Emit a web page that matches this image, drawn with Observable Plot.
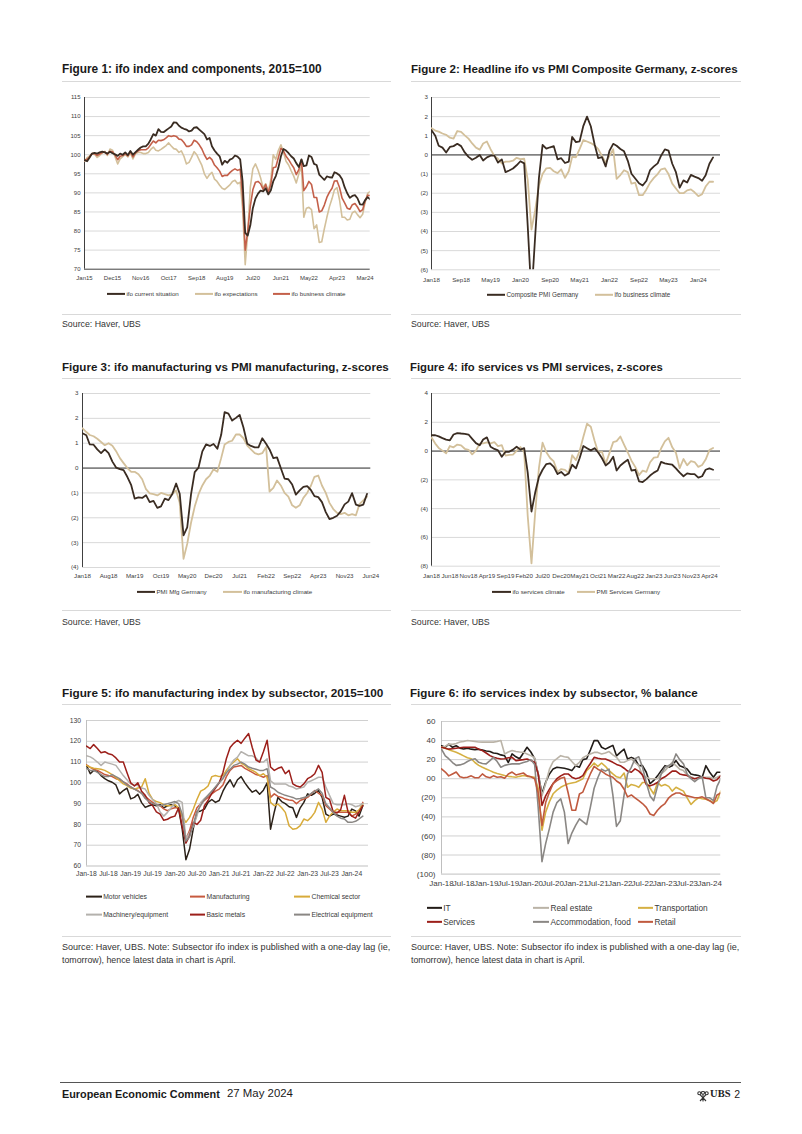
<!DOCTYPE html>
<html><head><meta charset="utf-8">
<script src="https://cdn.jsdelivr.net/npm/d3@7"></script>
<script src="https://cdn.jsdelivr.net/npm/@observablehq/plot@0.6"></script>
<style>
html,body{margin:0;padding:0;background:#fff;}
#page{position:relative;width:802px;height:1134px;overflow:hidden;font-family:"Liberation Sans",Arial,sans-serif;color:#1a1a1a;}
</style></head>
<body><div id="page"></div>
<script>
// ---------------- DATA ----------------
// Figure 1: monthly Jan15 - May24, 2015=100
const f1Current = [
98.6,98.3,99.2,100.3,100.5,100.3,100.6,100.8,100.6,100.3,100.8,100.4,
100.1,99.7,100.3,100.0,100.6,99.9,101.0,100.0,100.7,101.3,101.9,102.2,
102.2,102.9,104.0,105.4,105.0,106.7,106.0,105.9,106.4,106.9,107.4,108.5,
108.4,107.6,107.1,106.8,106.6,106.1,106.3,107.1,107.2,106.6,106.0,105.4,
104.0,104.4,102.2,101.1,100.3,99.6,97.4,98.4,97.9,98.7,99.0,99.8,
99.5,98.8,93.0,79.5,78.8,81.5,86.0,88.5,89.8,90.6,90.4,91.2,
89.6,90.7,93.0,94.4,96.5,99.6,101.5,101.1,100.4,99.6,99.0,97.8,
96.8,98.8,97.0,97.2,99.8,99.4,97.6,97.3,94.8,94.1,93.4,94.3,
94.1,94.0,95.4,95.1,94.6,93.6,91.5,89.9,88.7,89.2,89.4,88.6,
87.0,86.9,88.1,88.9,88.3];
const f1Expect = [
98.3,99.2,99.6,100.3,100.1,99.3,99.8,100.4,100.9,99.8,101.5,101.2,
99.4,97.6,98.9,99.5,100.0,99.4,100.5,98.9,100.3,100.6,100.6,100.3,
100.3,100.6,101.4,102.0,101.2,101.0,101.4,101.9,102.4,103.1,102.3,101.6,
101.4,100.6,101.0,99.6,97.6,98.0,99.3,100.8,100.0,98.6,97.2,95.0,
93.8,94.8,95.4,93.6,93.0,92.0,91.2,90.9,91.5,92.1,93.0,93.3,
92.4,92.8,85.8,71.2,79.5,91.5,96.3,97.6,96.0,94.0,91.3,92.4,
90.4,93.5,100.0,98.8,101.1,102.6,100.7,98.3,97.3,95.8,94.4,92.6,
95.0,97.0,83.6,86.0,86.2,85.6,80.6,81.6,77.0,77.2,80.6,83.6,
86.4,88.5,90.8,91.4,88.2,83.6,83.6,82.9,83.1,84.8,85.2,84.3,
83.5,84.4,87.5,89.9,90.4];
const f1Climate = [
98.5,98.8,99.4,100.3,100.3,99.8,100.2,100.6,100.7,100.1,100.9,100.8,
99.9,98.7,99.6,99.8,100.3,99.7,100.8,99.4,100.5,101.0,101.3,101.3,
101.3,101.8,102.7,103.6,103.1,103.8,103.7,103.9,104.4,105.0,104.8,105.0,
104.8,104.1,104.0,103.2,102.2,102.2,102.6,103.8,103.4,102.6,101.5,100.0,
98.8,99.3,98.7,97.3,96.6,95.7,94.3,94.6,94.6,95.3,95.9,96.3,
95.9,96.2,89.0,75.0,80.0,86.5,90.8,92.8,93.0,92.4,90.9,92.2,
90.1,92.3,96.6,96.8,99.2,101.7,101.0,99.6,98.7,97.6,96.6,94.8,
96.1,98.7,90.6,91.6,93.0,92.2,88.8,88.8,85.0,85.3,86.8,88.8,
90.2,91.2,93.1,93.2,91.4,88.6,87.4,86.0,85.7,86.9,87.2,86.3,
85.1,85.6,87.8,89.4,89.3];
const f1XLabels = ["Jan15","Dec15","Nov16","Oct17","Sep18","Aug19","Jul20","Jun21","May22","Apr23","Mar24"];
const f1YTicks = [70,75,80,85,90,95,100,105,110,115];
const f1Names = ["ifo current situation","ifo expectations","ifo business climate"];

// Figure 2: z-scores Jan18 - May24
const f2Pmi = [
1.29,1.00,0.48,0.38,0.13,0.42,0.46,0.58,0.46,0.13,-0.10,-0.25,
-0.15,0.00,-0.29,-0.13,-0.04,-0.04,-0.40,-0.23,-0.90,-0.81,-0.71,-0.54,
-0.33,-0.44,-3.70,-7.40,-4.27,-1.21,0.52,0.33,0.40,0.46,-0.23,-0.17,
-0.42,-0.35,0.94,0.67,0.71,1.52,2.00,1.50,0.56,-0.17,-0.12,-0.60,
0.21,0.58,0.48,0.31,0.19,-0.31,-0.98,-1.23,-1.48,-1.60,-1.35,-0.79,
-0.60,-0.44,-0.04,0.29,0.23,-0.46,-0.90,-1.71,-1.33,-1.44,-1.04,-1.13,
-1.21,-1.35,-1.06,-0.46,-0.13];
const f2Ifo = [
1.40,1.27,1.22,1.12,1.05,0.90,0.85,1.25,1.20,1.02,0.85,0.60,
0.38,0.28,0.60,0.70,0.30,-0.05,-0.20,-0.45,-0.35,-0.35,-0.30,-0.15,
-0.22,-0.20,-1.30,-3.90,-2.90,-1.60,-1.00,-0.70,-0.68,-0.85,-0.95,-0.75,
-1.20,-0.85,-0.10,-0.12,0.30,0.78,0.70,0.62,0.50,0.30,-0.05,-0.40,
-0.05,0.30,-1.25,-1.05,-0.80,-0.90,-1.50,-1.45,-2.10,-2.10,-1.80,-1.45,
-1.20,-1.00,-0.75,-0.70,-1.00,-1.50,-1.75,-2.00,-2.00,-1.85,-1.80,-1.95,
-2.15,-2.05,-1.65,-1.40,-1.40];
const f2XLabels = ["Jan18","Sep18","May19","Jan20","Sep20","May21","Jan22","Sep22","May23","Jan24"];
const f2YTicks = [3,2,1,0,-1,-2,-3,-4,-5,-6];
const f2Names = ["Composite PMI Germany","ifo business climate"];

// Figure 3: z-scores Jan18 - May24
const f3Pmi = [
1.40,1.32,0.95,0.94,0.75,0.60,0.75,0.60,0.26,0.02,-0.04,-0.08,
-0.36,-0.69,-1.23,-1.18,-1.20,-1.09,-1.37,-1.32,-1.60,-1.54,-1.23,-1.29,
-1.04,-0.62,-1.03,-2.71,-2.39,-1.06,-0.16,0.02,0.67,0.95,0.89,0.97,
0.78,1.34,2.25,2.19,1.91,2.02,2.14,1.63,0.98,0.89,0.83,0.83,
1.20,0.98,0.75,0.40,0.43,-0.01,-0.42,-0.45,-0.66,-1.07,-0.90,-0.76,
-0.73,-0.89,-1.13,-1.17,-1.37,-1.77,-2.05,-2.00,-1.92,-1.74,-1.46,-1.35,
-1.01,-1.47,-1.52,-1.47,-1.04];
const f3Ifo = [
1.60,1.45,1.33,1.28,1.18,1.05,0.92,1.00,0.90,0.68,0.40,0.20,
0.00,-0.15,-0.15,-0.25,-0.45,-0.85,-1.02,-1.05,-1.10,-1.00,-1.05,-1.10,
-1.05,-0.90,-1.40,-3.65,-3.05,-2.20,-1.55,-1.05,-0.70,-0.45,-0.30,-0.05,
-0.15,0.40,0.95,1.05,1.10,1.35,1.35,1.20,0.90,0.75,0.60,0.55,
0.60,0.85,-0.95,-0.80,-0.50,-0.70,-1.00,-1.15,-1.50,-1.60,-1.50,-1.20,
-1.00,-0.70,-0.35,-0.30,-0.70,-1.00,-1.40,-1.65,-1.80,-1.85,-1.80,-1.90,
-1.85,-1.90,-1.45,-1.30,-1.15];
const f3XLabels = ["Jan18","Aug18","Mar19","Oct19","May20","Dec20","Jul21","Feb22","Sep22","Apr23","Nov23","Jun24"];
const f3YTicks = [3,2,1,0,-1,-2,-3,-4];
const f3Names = ["PMI Mfg Germany","ifo manufacturing climate"];

// Figure 4: z-scores Jan18 - May24
const f4Ifo = [
1.10,1.10,1.02,0.90,0.80,0.75,1.15,1.25,1.22,1.20,1.15,0.85,
0.55,0.40,0.80,0.95,0.30,0.15,0.05,-0.40,-0.05,-0.05,0.10,0.30,
0.10,0.20,-1.50,-4.20,-2.90,-1.80,-1.30,-0.90,-0.85,-1.10,-1.60,-1.45,
-1.70,-1.55,-0.95,-1.20,-0.50,0.35,0.20,0.05,0.20,-0.10,-0.50,-1.00,
-0.80,-0.40,-1.35,-1.00,-0.80,-0.60,-1.35,-1.30,-2.10,-2.15,-1.95,-1.70,
-1.50,-1.35,-0.75,-0.85,-0.90,-0.95,-1.20,-1.50,-1.75,-1.55,-1.60,-1.60,
-1.85,-1.75,-1.30,-1.20,-1.30];
const f4Pmi = [
0.94,0.52,0.22,0.03,-0.16,0.35,0.26,0.45,0.39,0.16,0.09,-0.23,
0.03,0.52,0.54,0.60,0.54,0.62,0.35,0.41,-0.31,-0.27,-0.25,0.01,
0.28,-0.08,-4.50,-7.80,-4.31,-1.19,0.58,-0.08,-0.48,-0.72,-1.46,-1.25,
-1.31,-1.53,-0.29,-0.63,-0.01,0.99,1.90,1.69,0.71,-0.10,-0.04,-0.89,
-0.14,0.62,0.69,1.01,0.45,-0.10,-0.67,-1.10,-1.67,-1.36,-1.44,-0.78,
-0.46,-0.42,0.18,0.67,0.92,0.26,-0.12,-1.19,-0.55,-0.99,-0.70,-0.76,
-1.10,-0.97,-0.59,0.07,0.22];
const f4XLabels = ["Jan18","Jun18","Nov18","Apr19","Sep19","Feb20","Jul20","Dec20","May21","Oct21","Mar22","Aug22","Jan23","Jun23","Nov23","Apr24"];
const f4YTicks = [4,2,0,-2,-4,-6,-8];
const f4Names = ["ifo services climate","PMI Services Germany"];

// Figure 5: 2015=100, Jan18 - Apr24
const f5Motor = [
108.4,104.4,106.0,105.5,103.5,102.0,101.0,100.3,99.0,94.7,96.3,97.5,
92.3,93.0,94.5,90.5,88.2,89.0,89.5,89.0,89.5,88.0,89.0,89.5,
89.0,87.4,78.0,63.0,68.0,78.0,86.0,86.5,87.4,90.6,92.0,90.6,
91.5,96.0,99.0,101.5,98.0,101.5,103.0,100.0,97.5,95.5,96.5,94.5,
96.5,100.0,77.7,86.0,93.0,91.0,90.0,88.5,88.0,83.4,88.0,90.6,
94.7,94.0,95.0,96.3,93.0,85.0,84.0,85.0,84.5,84.0,83.5,84.0,
87.4,86.5,84.0,89.0];
const f5Mfg = [
108.7,107.5,106.5,106.0,105.0,104.0,103.5,103.0,102.0,101.5,100.5,99.5,
98.0,97.0,96.3,95.0,93.5,92.0,90.6,89.5,89.0,87.5,86.6,87.5,
88.0,88.0,84.0,73.0,77.0,83.5,88.0,90.0,91.5,93.0,94.7,96.0,
97.0,99.0,103.0,106.0,107.6,108.0,108.4,107.0,106.0,105.0,104.0,103.5,
102.7,103.5,93.0,94.7,93.5,93.0,92.2,91.8,91.5,90.0,91.5,92.2,
93.0,94.7,96.3,95.0,94.0,89.0,87.4,85.8,85.8,85.8,85.8,85.8,
84.0,85.0,85.8,90.6];
const f5Chem = [
108.4,107.5,107.0,106.8,106.5,106.0,105.0,104.0,102.5,101.0,99.5,98.7,
97.5,97.0,97.5,98.0,102.0,95.0,92.0,91.0,90.5,89.5,89.0,89.0,
89.5,88.0,84.0,81.0,83.4,87.4,92.0,96.0,97.0,98.5,103.0,103.5,
103.0,103.5,106.0,108.4,110.0,111.6,109.5,108.4,106.8,106.0,105.0,103.5,
104.4,102.7,90.6,89.0,89.8,88.0,85.8,79.4,77.7,78.0,79.4,82.6,
81.8,83.5,85.8,90.6,87.4,81.0,84.0,86.0,87.4,86.6,86.6,86.6,
85.8,85.8,87.0,89.8];
const f5Mach = [
113.0,112.5,111.5,110.0,108.4,110.0,109.5,109.0,108.4,106.0,103.5,101.5,
99.5,99.0,98.7,97.5,97.0,94.0,92.0,90.0,86.0,84.0,85.8,88.0,
90.6,91.5,90.6,73.0,76.0,79.0,84.0,90.6,92.5,94.0,96.0,98.0,
100.3,102.5,104.4,108.4,111.0,112.4,115.0,114.0,113.0,113.0,112.0,110.0,
110.0,111.6,101.0,99.5,99.5,99.5,99.5,98.5,98.0,97.0,97.5,98.0,
100.3,101.0,101.8,102.7,102.7,98.0,94.0,90.0,89.5,89.5,89.5,90.0,
89.5,88.5,89.0,90.0];
const f5Metals = [
117.7,116.5,118.4,116.5,114.5,115.0,114.0,113.5,112.0,110.0,110.0,105.0,
100.0,98.5,100.0,96.0,94.0,90.6,89.0,86.0,85.0,82.0,82.5,83.5,
84.0,88.0,79.0,71.0,74.5,81.0,80.0,82.0,89.0,91.5,95.0,97.5,
100.0,105.0,111.6,117.0,119.0,120.5,119.0,121.5,123.7,117.0,111.0,110.0,
115.0,120.5,107.6,106.0,107.0,107.6,104.4,106.0,99.5,98.5,98.0,99.5,
102.0,103.0,104.4,108.4,105.0,93.0,92.0,86.0,85.5,87.0,94.0,86.0,
84.0,83.0,86.0,89.0];
const f5Elec = [
107.0,106.0,106.0,105.0,104.0,103.0,103.0,104.0,103.0,102.0,100.5,99.0,
98.0,97.0,96.0,95.0,92.5,91.0,90.0,89.5,89.0,89.5,90.0,90.5,
91.0,90.0,85.0,72.0,74.0,80.0,86.0,89.0,92.0,94.0,96.0,98.0,
100.0,102.0,105.0,106.5,108.4,109.0,110.0,109.0,107.6,107.0,106.5,106.0,
106.0,106.8,98.0,97.0,95.5,94.7,94.0,93.5,93.0,92.2,92.5,93.0,
93.5,95.0,96.0,97.1,95.0,90.0,88.0,85.8,84.0,83.0,82.6,81.0,
81.0,81.5,82.6,84.0];
const f5XLabels = ["Jan-18","Jul-18","Jan-19","Jul-19","Jan-20","Jul-20","Jan-21","Jul-21","Jan-22","Jul-22","Jan-23","Jul-23","Jan-24"];
const f5YTicks = [60,70,80,90,100,110,120,130];
const f5Names = ["Motor vehicles","Manufacturing","Chemical sector","Machinery/equipment","Basic metals","Electrical equipment"];

// Figure 6: % balance, Jan18 - Apr24
const f6IT = [
34.6,33.0,36.3,32.9,34.6,32.0,31.1,32.0,31.0,30.5,31.0,30.0,
29.0,28.5,27.0,26.5,25.0,24.0,17.0,26.0,23.0,21.0,27.0,33.0,
28.0,21.0,5.0,-15.8,-3.7,5.0,10.3,12.0,11.5,11.0,10.0,8.5,
13.7,12.0,20.0,21.0,30.0,40.0,40.0,33.0,31.0,33.0,35.0,24.0,
27.7,31.0,20.7,22.4,20.7,13.7,13.7,6.8,-5.3,-1.8,3.0,8.5,
13.7,12.0,13.7,19.0,13.7,12.0,10.3,5.0,4.0,3.3,1.6,13.7,
6.8,1.6,6.8,6.8];
const f6RealEstate = [
33.0,34.0,36.3,36.0,37.0,38.5,39.0,40.0,39.5,39.0,38.5,38.4,
38.4,38.4,38.4,39.0,40.0,26.0,28.0,29.5,28.5,28.0,27.7,26.0,
24.2,22.0,5.0,-18.0,-5.0,10.0,18.0,21.0,24.2,23.0,22.4,18.0,
13.7,17.2,22.0,24.2,26.0,27.6,27.6,26.0,27.0,28.5,25.0,22.4,
17.2,17.2,19.0,20.7,17.0,13.7,3.3,1.6,0.0,0.0,0.0,5.0,
8.5,13.0,17.2,13.7,10.0,8.5,4.0,2.0,0.0,1.0,1.6,1.6,
1.6,0.0,1.5,3.3];
const f6Transport = [
33.0,32.0,30.5,29.0,27.7,26.0,24.0,22.0,21.0,17.0,14.0,12.0,
10.3,8.5,6.8,5.5,4.5,3.3,2.5,2.0,1.6,2.5,3.3,2.5,
2.0,1.6,-10.0,-54.0,-35.0,-24.0,-15.8,-12.0,-9.0,-7.0,-5.3,-4.5,
-3.7,-1.8,0.0,8.5,12.0,16.5,13.0,16.5,13.0,8.5,5.0,2.0,
1.0,6.0,-9.0,-6.0,-7.0,-9.0,-4.0,-4.0,-10.0,-16.0,-4.0,-7.5,
-6.0,-8.0,-13.0,-9.0,-11.0,-13.0,-20.0,-27.0,-23.0,-20.0,-21.0,-21.5,
-23.0,-25.0,-23.0,-13.0];
const f6Services = [
33.0,32.0,31.0,31.5,32.0,32.5,33.0,33.0,33.0,33.0,31.0,29.5,
27.0,24.2,22.5,21.5,20.7,21.0,22.0,22.4,19.0,19.5,20.0,20.7,
19.0,17.2,5.0,-28.0,-18.0,-11.0,-5.0,0.0,3.0,5.0,5.0,1.6,
0.0,1.0,3.3,10.3,16.0,22.4,21.5,20.7,20.7,19.0,17.2,15.0,
13.7,11.0,8.0,6.8,10.3,8.0,4.0,-6.0,-7.5,-6.0,-4.0,0.0,
2.0,5.0,8.0,8.0,5.0,4.0,3.3,1.0,0.0,1.0,1.6,0.5,
0.0,-2.4,-1.0,3.0];
const f6Accom = [
31.0,24.0,21.0,17.0,14.0,14.5,15.6,18.0,20.0,21.0,17.2,16.0,
15.6,19.0,22.4,18.0,12.0,14.0,15.0,15.6,15.6,15.6,17.0,18.0,
20.0,15.0,-30.0,-87.0,-68.0,-52.0,-35.0,-25.0,-21.0,-35.0,-68.0,-57.0,
-49.0,-42.0,-45.0,-48.0,-30.0,-10.0,1.0,10.0,8.0,10.0,-17.0,-50.0,
-44.0,-17.0,5.0,12.0,21.0,23.0,12.0,-4.0,-18.0,-23.0,-8.0,5.0,
12.0,14.0,15.6,26.0,20.0,15.6,5.0,0.0,-3.0,0.0,2.0,-20.0,
-20.0,-23.0,-8.0,0.0];
const f6Retail = [
10.3,7.0,3.0,5.0,7.0,2.0,1.0,1.5,3.0,1.0,1.0,5.0,
2.0,1.0,3.0,1.5,2.0,0.5,5.0,7.0,4.0,5.0,6.0,3.0,
2.0,0.0,-15.0,-49.0,-25.0,-14.0,-5.0,-2.0,0.5,1.5,-15.0,-33.0,
-33.0,-16.0,-14.0,-4.0,5.0,13.0,10.0,8.0,5.0,3.0,1.6,-2.4,
-5.0,-11.0,-19.0,-17.0,-20.0,-23.0,-26.0,-30.0,-37.0,-38.5,-33.0,-29.0,
-26.0,-20.0,-17.0,-15.0,-15.0,-17.0,-18.0,-19.0,-20.0,-20.0,-19.0,-21.0,
-23.0,-26.0,-17.0,-15.0];
const f6XLabels = ["Jan-18","Jul-18","Jan-19","Jul-19","Jan-20","Jul-20","Jan-21","Jul-21","Jan-22","Jul-22","Jan-23","Jul-23","Jan-24"];
const f6YTicks = [60,40,20,0,-20,-40,-60,-80,-100];
const f6Names = ["IT","Real estate","Transportation","Services","Accommodation, food","Retail"];

const titles = [
  "Figure 1: ifo index and components, 2015=100",
  "Figure 2: Headline ifo vs PMI Composite Germany, z-scores",
  "Figure 3: ifo manufacturing vs PMI manufacturing, z-scores",
  "Figure 4: ifo services vs PMI services, z-scores",
  "Figure 5: ifo manufacturing index by subsector, 2015=100",
  "Figure 6: ifo services index by subsector, % balance"];
const sourceShort = "Source: Haver, UBS";
const sourceLong = ["Source: Haver, UBS. Note: Subsector ifo index is published with a one-day lag (ie,", "tomorrow), hence latest data in chart is April."];

// ---------------- RENDER ----------------
const page = document.getElementById("page");
const parseA = d3.utcParse("%b%y"), parseB = d3.utcParse("%b-%y");
const C = {dark:"#3a2c22", tan:"#d3c09b", orange:"#c4604a",
  motor:"#2b2118", mfg:"#c75a3f", chem:"#d8ab3a", mach:"#b4b1ad", metals:"#9c1f1a", elec:"#8a8784",
  it:"#221c18", re:"#bab3a7", tr:"#d5b043", sv:"#9c1f1a", acc:"#8a8784", rt:"#c05a3f"};

function el(css){const e=document.createElement("div");Object.assign(e.style,{position:"absolute"},css);page.appendChild(e);return e;}
function text(str,left,cy,size,o={}){
  const e=el({left:left+"px",top:cy+"px",transform:"translateY(-50%)",fontSize:size+"px",lineHeight:"1",whiteSpace:"nowrap",
    fontWeight:o.bold?"bold":"normal",color:o.color||"#1a1a1a",fontFamily:o.family||"inherit"});
  e.textContent=str;
  if(o.fitW){const w=e.getBoundingClientRect().width;e.style.fontSize=(size*o.fitW/w)+"px";}
  if(o.right!=null){const w=e.getBoundingClientRect().width;e.style.left=(o.right-w)+"px";}
  return e;
}
function hrule(x0,x1,y,color){el({left:x0+"px",top:(y-0.5)+"px",width:(x1-x0)+"px",height:"1px",background:color});}
function legend(name,color,x0,x1,cy,size){
  const e=el({left:x0+"px",top:cy+"px",transform:"translateY(-50%)",fontSize:size+"px",lineHeight:"1",whiteSpace:"nowrap",color:"#3a3a3a",display:"flex",alignItems:"center"});
  const sw=document.createElement("span");
  Object.assign(sw.style,{display:"inline-block",width:(x1-x0)+"px",height:"2px",background:color,marginRight:"1.5px"});
  e.appendChild(sw);e.appendChild(document.createTextNode(name));
}
const paren = v => v<0 ? `(${-v})` : `${v}`;

function chart(cfg){
  const b=cfg.box, padL=45, padT=8;
  const left=b.x0-padL, top=b.y0-padT;
  const width=Math.ceil(b.x1+16-left), height=Math.ceil(b.y1+24-top);
  const mr=width-padL-(b.x1-b.x0), mb=height-padT-(b.y1-b.y0);
  const labelMap=new Map(cfg.xLabels.map(s=>[+cfg.xParse(s),s]));
  const marks=[Plot.ruleY(cfg.grid,{stroke:cfg.gridColor,strokeWidth:1})];
  if(cfg.bottom) marks.push(Plot.ruleY([cfg.yDomain[0]],{stroke:cfg.bottom,strokeWidth:1}));
  if(cfg.zero) marks.push(Plot.ruleY([0],{stroke:"#262626",strokeWidth:1}));
  marks.push(Plot.ruleX([cfg.xDomain[0]],{stroke:cfg.axisColor,strokeWidth:1}));
  for(const s of cfg.series){
    const data=s.values.map((v,i)=>({date:d3.utcMonth.offset(cfg.start,i),value:v}));
    marks.push(Plot.line(data,{x:"date",y:"value",stroke:s.color,strokeWidth:s.w,clip:true,strokeLinejoin:"round"}));
  }
  marks.push(Plot.axisY(cfg.yTicks,{tickSize:0,tickPadding:cfg.padY,tickFormat:cfg.yFmt,label:null}));
  marks.push(Plot.axisX(cfg.xLabels.map(cfg.xParse),{tickSize:0,tickPadding:cfg.padX,tickFormat:d=>labelMap.get(+d),label:null}));
  const svg=Plot.plot({width,height,marginLeft:padL,marginRight:mr,marginTop:padT,marginBottom:mb,
    x:{type:"utc",domain:cfg.xDomain,label:null},y:{domain:cfg.yDomain,label:null},
    style:{fontFamily:"Liberation Sans, Arial, sans-serif",fontSize:cfg.fs+"px",color:"#404040",background:"none",overflow:"visible"},
    marks});
  Object.assign(svg.style,{position:"absolute",left:left+"px",top:top+"px"});
  page.appendChild(svg);
}

const ruleCol="#d9d9d9";
// ---- Row 1
text(titles[0],62,70,12,{bold:true,fitW:260});
text(titles[1],411,70,12,{bold:true,fitW:327});
hrule(62,391,81.5,ruleCol); hrule(411,741,81.5,ruleCol);
chart({box:{x0:84.3,x1:370,y0:97,y1:268.7},start:new Date(Date.UTC(2015,0,1)),xDomain:[new Date(Date.UTC(2015,0,1)),new Date(Date.UTC(2024,4,1))],
  yDomain:[70,115],yTicks:f1YTicks,grid:f1YTicks.slice(1),gridColor:"#d9d9d9",bottom:"#404040",axisColor:"#404040",yFmt:d=>d,
  xLabels:f1XLabels,xParse:parseA,fs:6,padX:7,padY:4,
  series:[{values:f1Expect,color:C.tan,w:1.6},{values:f1Climate,color:C.orange,w:1.6},{values:f1Current,color:C.dark,w:1.8}]});
legend(f1Names[0],C.dark,106.7,125,294,6.2);
legend(f1Names[1],C.tan,195,213,294,6.2);
legend(f1Names[2],C.orange,273,290,294,6.2);
chart({box:{x0:431,x1:720,y0:96.7,y1:269},start:new Date(Date.UTC(2018,0,1)),xDomain:[new Date(Date.UTC(2018,0,1)),new Date(Date.UTC(2024,6,1))],
  yDomain:[-6,3],yTicks:f2YTicks,grid:f2YTicks.filter(t=>t!==0),gridColor:"#d9d9d9",zero:true,axisColor:"#404040",yFmt:paren,
  xLabels:f2XLabels,xParse:parseA,fs:6.2,padX:7.5,padY:3.5,
  series:[{values:f2Ifo,color:C.tan,w:1.8},{values:f2Pmi,color:C.dark,w:1.8}]});
legend(f2Names[0],C.dark,487,505,295,6.4);
legend(f2Names[1],C.tan,595,613,295,6.4);
hrule(62,391,314,ruleCol); hrule(411,741,314,ruleCol);
text(sourceShort,62,324,8.8,{color:"#333"});
text(sourceShort,411,324,8.8,{color:"#333"});

// ---- Row 2
text(titles[2],62,368,12,{bold:true,fitW:327});
text(titles[3],410,368,12,{bold:true,fitW:253});
hrule(62,391,378.3,ruleCol); hrule(411,741,378.3,ruleCol);
chart({box:{x0:81.7,x1:370,y0:393.3,y1:567.3},start:new Date(Date.UTC(2018,0,1)),xDomain:[new Date(Date.UTC(2018,0,1)),new Date(Date.UTC(2024,5,1))],
  yDomain:[-4,3],yTicks:f3YTicks,grid:f3YTicks.filter(t=>t!==0),gridColor:"#d9d9d9",zero:true,axisColor:"#404040",yFmt:paren,
  xLabels:f3XLabels,xParse:parseA,fs:6.2,padX:6,padY:4,
  series:[{values:f3Ifo,color:C.tan,w:1.8},{values:f3Pmi,color:C.dark,w:1.8}]});
legend(f3Names[0],C.dark,136.7,155,592.3,6.2);
legend(f3Names[1],C.tan,223,242,592.3,6.2);
chart({box:{x0:431,x1:720,y0:393.3,y1:566},start:new Date(Date.UTC(2018,0,1)),xDomain:[new Date(Date.UTC(2018,0,1)),new Date(Date.UTC(2024,6,1))],
  yDomain:[-8,4],yTicks:f4YTicks,grid:f4YTicks.filter(t=>t!==0),gridColor:"#d9d9d9",zero:true,axisColor:"#404040",yFmt:paren,
  xLabels:f4XLabels,xParse:parseA,fs:6.2,padX:7.5,padY:3.5,
  series:[{values:f4Pmi,color:C.tan,w:1.8},{values:f4Ifo,color:C.dark,w:1.8}]});
legend(f4Names[0],C.dark,492,511,592,6.2);
legend(f4Names[1],C.tan,577,595,592,6.2);
hrule(62,391,610,ruleCol); hrule(411,741,610,ruleCol);
text(sourceShort,62,621.7,8.8,{color:"#333"});
text(sourceShort,411,621.7,8.8,{color:"#333"});

// ---- Row 3
text(titles[4],62,693,12,{bold:true,fitW:322});
text(titles[5],410,693,12,{bold:true,fitW:288});
hrule(62,391,704,ruleCol); hrule(411,741,704,ruleCol);
chart({box:{x0:85.7,x1:367.7,y0:719.5,y1:865},start:new Date(Date.UTC(2018,0,1)),xDomain:[new Date(Date.UTC(2018,0,1)),new Date(Date.UTC(2024,4,18))],
  yDomain:[60,130],yTicks:f5YTicks,grid:f5YTicks.slice(1),gridColor:"#d0d0d0",bottom:"#bfbfbf",axisColor:"#bfbfbf",yFmt:d=>d,
  xLabels:f5XLabels,xParse:parseB,fs:6.8,padX:5.3,padY:5.5,
  series:[{values:f5Motor,color:C.motor,w:1.5},{values:f5Mfg,color:C.mfg,w:1.5},{values:f5Chem,color:C.chem,w:1.5},
          {values:f5Mach,color:C.mach,w:1.5},{values:f5Metals,color:C.metals,w:1.5},{values:f5Elec,color:C.elec,w:1.5}]});
const f5Cols=[[85.7,101.7],[190,205],[294,310]], f5Rows=[897,915];
const f5Colors=[C.motor,C.mfg,C.chem,C.mach,C.metals,C.elec];
f5Names.forEach((n,i)=>legend(n,f5Colors[i],f5Cols[i%3][0],f5Cols[i%3][1],f5Rows[Math.floor(i/3)],6.8));
chart({box:{x0:440.7,x1:720,y0:720.7,y1:873.3},start:new Date(Date.UTC(2018,0,1)),xDomain:[new Date(Date.UTC(2018,0,1)),new Date(Date.UTC(2024,3,1))],
  yDomain:[-100,60],yTicks:f6YTicks,grid:f6YTicks.filter(t=>t!==-100),gridColor:"#d0d0d0",bottom:"#bfbfbf",axisColor:"#bfbfbf",
  yFmt:d=>d===0?"00":paren(d),
  xLabels:f6XLabels,xParse:parseB,fs:8,padX:6.4,padY:6,
  series:[{values:f6IT,color:C.it,w:1.6},{values:f6RealEstate,color:C.re,w:1.6},{values:f6Transport,color:C.tr,w:1.6},
          {values:f6Services,color:C.sv,w:1.6},{values:f6Accom,color:C.acc,w:1.6},{values:f6Retail,color:C.rt,w:1.6}]});
const f6Cols=[[426.7,441.7],[533,549],[638,653]], f6Rows=[908.3,922.3];
const f6Colors=[C.it,C.re,C.tr,C.sv,C.acc,C.rt];
f6Names.forEach((n,i)=>legend(n,f6Colors[i],f6Cols[i%3][0],f6Cols[i%3][1],f6Rows[Math.floor(i/3)],8.3));
hrule(62,391,936.7,ruleCol); hrule(411,741,936.7,ruleCol);
text(sourceLong[0],62,948.3,8.8,{color:"#333",fitW:329});
text(sourceLong[1],62,959.7,8.8,{color:"#333"});
text(sourceLong[0],411,948.3,8.8,{color:"#333",fitW:329});
text(sourceLong[1],411,959.7,8.8,{color:"#333"});

// ---- Footer
hrule(60,741,1082,"#555");
text("European Economic Comment",62,1093.5,11.5,{bold:true,fitW:158});
text("27 May 2024",227,1093.5,11,{fitW:66});
text("2",0,1093.5,10.5,{color:"#222",right:740});
text("UBS",0,1093.5,10.5,{bold:true,family:"Liberation Serif, serif",color:"#222",right:730.5});
const logo=el({left:"697px",top:"1088px",width:"12px",height:"11px"});
logo.innerHTML='<svg width="12" height="11" viewBox="0 0 12 11"><g stroke="#333" stroke-width="1.1" fill="none"><circle cx="2.3" cy="2.3" r="1.5"/><circle cx="6" cy="1.8" r="1.5"/><circle cx="9.7" cy="2.3" r="1.5"/><line x1="3" y1="3.6" x2="9" y2="10"/><line x1="9" y1="3.6" x2="3" y2="10"/><line x1="6" y1="3.3" x2="6" y2="10.5"/><line x1="4.5" y1="8.5" x2="7.5" y2="8.5"/></g></svg>';
</script>
</body></html>
